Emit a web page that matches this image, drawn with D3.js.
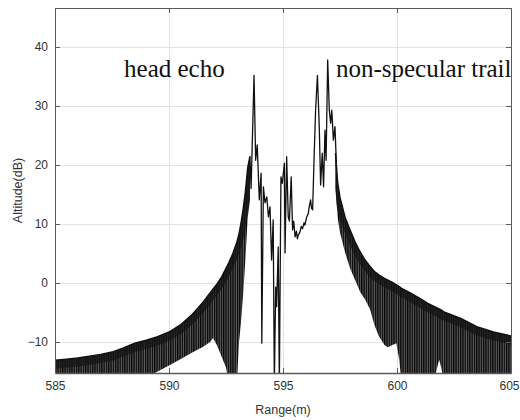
<!DOCTYPE html>
<html>
<head>
<meta charset="utf-8">
<script src="https://cdn.jsdelivr.net/npm/d3@7"></script>
<style>
  body { margin: 0; background: #fff; }
  svg { display: block; }
</style>
</head>
<body>
<div id="chart"></div>
<script>
// tick labels
var xTicks = [585, 590, 595, 600, 605];
var yTicks = [-10, 0, 10, 20, 30, 40];

// left sidelobe band (range m, top / bottom of the oscillation in dB)
var leftRange  = [585, 585.5, 586, 586.5, 587, 587.5, 588, 588.5, 589, 589.5, 590, 590.5, 591, 591.5, 591.8, 591.93, 592.1, 592.3, 592.5, 592.63, 592.8, 592.98, 593.07, 593.15, 593.25, 593.35, 593.45, 593.55];
var leftTop    = [-13.1, -12.9, -12.7, -12.4, -12.1, -11.7, -11.0, -10.2, -9.7, -9.1, -8.3, -7.1, -5.4, -3.2, -1.7, -1.0, -0.2, 1.0, 2.5, 3.5, 5.0, 7.0, 8.3, 10.0, 12.5, 15.5, 19.5, 21.5];
var leftBottom = [-17, -17, -17, -17, -17, -17, -17, -17, -16, -15, -14, -12.9, -11.8, -10.8, -10, -9.3, -10.5, -12.4, -14.3, -17, -17, -17, -10, -7, -2, 4, 11, 14];

// main lobe region, traced point by point
var centerRange = [593.55, 593.6, 593.73, 593.8, 593.87, 593.96, 594.04, 594.07, 594.14, 594.21, 594.29, 594.36, 594.43, 594.5, 594.57, 594.62, 594.68, 594.72, 594.79, 594.84, 594.91, 594.97, 595.06, 595.09, 595.16, 595.23, 595.28, 595.36, 595.42, 595.47, 595.53, 595.59, 595.63, 595.67, 595.75, 595.8, 595.86, 595.92, 595.96, 596.04, 596.11, 596.15, 596.21, 596.25, 596.3, 596.36, 596.43, 596.51, 596.59, 596.65, 596.72, 596.78, 596.84, 596.89, 596.96, 597.03, 597.09, 597.14, 597.21, 597.28, 597.35];
var centerLevel = [21.4, 16, 35.2, 20.8, 23.4, 14.1, 18.6, -10.2, 16.3, 13.6, 14.6, 11.2, 12.9, 3.9, 10.7, -17, -0.7, -4, 6.1, -17, 18, 16.9, 20.3, 5.1, 21.4, 11.2, 10.5, 18, 9, 10.5, 7.8, 8.8, 7.5, 8.1, 8.7, 9.6, 9.2, 10.2, 9.8, 11.2, 11.8, 12.9, 14.1, 12.7, 12.4, 20.8, 29.3, 35.2, 26.5, 16.6, 22, 16.3, 25.9, 20.8, 37.8, 29.3, 27.1, 29.3, 24.2, 26.5, 19.2];

// right sidelobe band
var rightRange  = [597.3, 597.4, 597.5, 597.72, 597.94, 598.16, 598.38, 598.6, 598.82, 599.0, 599.2, 599.45, 599.6, 599.8, 599.97, 600.1, 600.2, 600.6, 601.0, 601.33, 601.6, 601.75, 601.85, 601.95, 602.06, 602.4, 602.8, 603.5, 604.23, 604.82, 605.2];
var rightTop    = [22, 17, 14.5, 11.2, 9, 7, 5.3, 3.9, 2.8, 2.0, 1.4, 0.8, 0.5, 0.1, -0.3, -0.6, -0.9, -1.7, -2.6, -3.4, -3.9, -4.2, -4.4, -4.6, -4.9, -5.4, -6, -7.4, -8.3, -8.8, -9.2];
var rightBottom = [16, 11, 8.5, 5.2, 2.5, 0.5, -1.5, -2.8, -4.5, -7, -9, -10.5, -10.9, -10.5, -10.2, -13, -17, -17, -17, -17, -17, -14.5, -13, -14.5, -17, -17, -17, -17, -17, -17, -17];

var annotations = [
  { text: "head echo", range: 588.03, level: 34.9 },
  { text: "non-specular trail", range: 597.32, level: 34.9 }
];

const plotLeft = 55, plotRight = 511, plotTop = 8, plotBottom = 373;
const axisColor = "#5a5a5a";
const gridColor = "#e3e3e3";

let svg = d3.select("#chart").append("svg")
  .attr("width", 520)
  .attr("height", 420);

let x = d3.scaleLinear().domain([585, 605]).range([plotLeft, plotRight]);
let y = d3.scaleLinear().domain([-15.25, 46.6]).range([plotBottom, plotTop]);

let defs = svg.append("defs");
defs.append("clipPath").attr("id", "plot-clip")
  .append("rect")
  .attr("x", plotLeft).attr("y", plotTop)
  .attr("width", plotRight - plotLeft).attr("height", plotBottom - plotTop);

// vertical stripes stand in for the dense sidelobe oscillation
let stripes = defs.append("pattern")
  .attr("id", "stripes")
  .attr("patternUnits", "userSpaceOnUse")
  .attr("width", 2.3)
  .attr("height", 6);
stripes.append("rect").attr("width", 2.3).attr("height", 6).attr("fill", "#5c5c5c");
stripes.append("rect").attr("width", 1.3).attr("height", 6).attr("fill", "#080808");

// grid
svg.append("g")
  .attr("transform", `translate(0,${plotBottom})`)
  .call(d3.axisBottom(x).tickValues(xTicks).tickSize(-(plotBottom - plotTop)).tickFormat(""))
  .call(g => g.select(".domain").remove())
  .call(g => g.selectAll("line").attr("stroke", gridColor));
svg.append("g")
  .attr("transform", `translate(${plotLeft},0)`)
  .call(d3.axisLeft(y).tickValues(yTicks).tickSize(-(plotRight - plotLeft)).tickFormat(""))
  .call(g => g.select(".domain").remove())
  .call(g => g.selectAll("line").attr("stroke", gridColor));

let plot = svg.append("g").attr("clip-path", "url(#plot-clip)");

function band(id, xs, tops, bottoms) {
  let pts = xs.map((v, i) => ({ r: v, hi: tops[i], lo: bottoms[i] }));
  let area = d3.area()
    .x(d => x(d.r))
    .y0(d => y(d.lo))
    .y1(d => y(d.hi));
  let topLine = d3.line().x(d => x(d.r)).y(d => y(d.hi));

  defs.append("clipPath").attr("id", id)
    .append("path")
    .datum(pts)
    .attr("d", area);

  let g = plot.append("g");
  g.append("path")
    .datum(pts)
    .attr("d", area)
    .attr("fill", "url(#stripes)");
  // darker core just under the crests
  g.append("g")
    .attr("clip-path", `url(#${id})`)
    .append("path")
    .datum(pts)
    .attr("d", topLine)
    .attr("transform", "translate(0,4)")
    .attr("fill", "none")
    .attr("stroke", "#141414")
    .attr("stroke-opacity", 0.75)
    .attr("stroke-width", 9);
  g.append("path")
    .datum(pts)
    .attr("d", topLine)
    .attr("fill", "none")
    .attr("stroke", "#111")
    .attr("stroke-width", 1.4);
}

band("left-band", leftRange, leftTop, leftBottom);
band("right-band", rightRange, rightTop, rightBottom);

let centerPts = centerRange.map((v, i) => [v, centerLevel[i]]);
plot.append("path")
  .datum(centerPts)
  .attr("d", d3.line().x(d => x(d[0])).y(d => y(d[1])))
  .attr("fill", "none")
  .attr("stroke", "#111")
  .attr("stroke-width", 1.3)
  .attr("stroke-linejoin", "round");

// axes, MATLAB style: box with inward ticks
function styleAxis(g) {
  g.select(".domain").attr("stroke", axisColor);
  g.selectAll(".tick line").attr("stroke", axisColor);
  g.selectAll("text")
    .attr("fill", "#333")
    .attr("font-family", "Liberation Sans, Arial, sans-serif")
    .attr("font-size", "12px");
}

svg.append("g")
  .attr("transform", `translate(0,${plotBottom})`)
  .call(d3.axisBottom(x).tickValues(xTicks).tickSize(-5).tickSizeOuter(0).tickPadding(8))
  .call(styleAxis)
  .call(g => g.select(".domain").attr("stroke-width", 1.6))
  // last label sits at the window edge, pull it in a little
  .call(g => g.selectAll(".tick text").filter(d => d === 605).attr("dx", -2));
svg.append("g")
  .attr("transform", `translate(0,${plotTop})`)
  .call(d3.axisTop(x).tickValues(xTicks).tickSize(-5).tickSizeOuter(0).tickFormat(""))
  .call(styleAxis);
svg.append("g")
  .attr("transform", `translate(${plotLeft},0)`)
  .call(d3.axisLeft(y).tickValues(yTicks).tickSize(-5).tickSizeOuter(0).tickPadding(7))
  .call(styleAxis);
svg.append("g")
  .attr("transform", `translate(${plotRight},0)`)
  .call(d3.axisRight(y).tickValues(yTicks).tickSize(-5).tickSizeOuter(0).tickFormat(""))
  .call(styleAxis);

// axis titles
svg.append("text")
  .attr("x", (plotLeft + plotRight) / 2)
  .attr("y", 414)
  .attr("text-anchor", "middle")
  .attr("fill", "#333")
  .attr("font-family", "Liberation Sans, Arial, sans-serif")
  .attr("font-size", "12.5px")
  .text("Range(m)");
svg.append("text")
  .attr("transform", `translate(22,${(plotTop + plotBottom) / 2}) rotate(-90)`)
  .attr("text-anchor", "middle")
  .attr("fill", "#333")
  .attr("font-family", "Liberation Sans, Arial, sans-serif")
  .attr("font-size", "12.5px")
  .text("Altitude(dB)");

svg.selectAll("text.note")
  .data(annotations)
  .enter()
  .append("text")
  .attr("class", "note")
  .attr("x", d => x(d.range))
  .attr("y", d => y(d.level))
  .attr("fill", "#111")
  .attr("font-family", "Liberation Serif, Times New Roman, serif")
  .attr("font-size", "25px")
  .text(d => d.text);
</script>
</body>
</html>
